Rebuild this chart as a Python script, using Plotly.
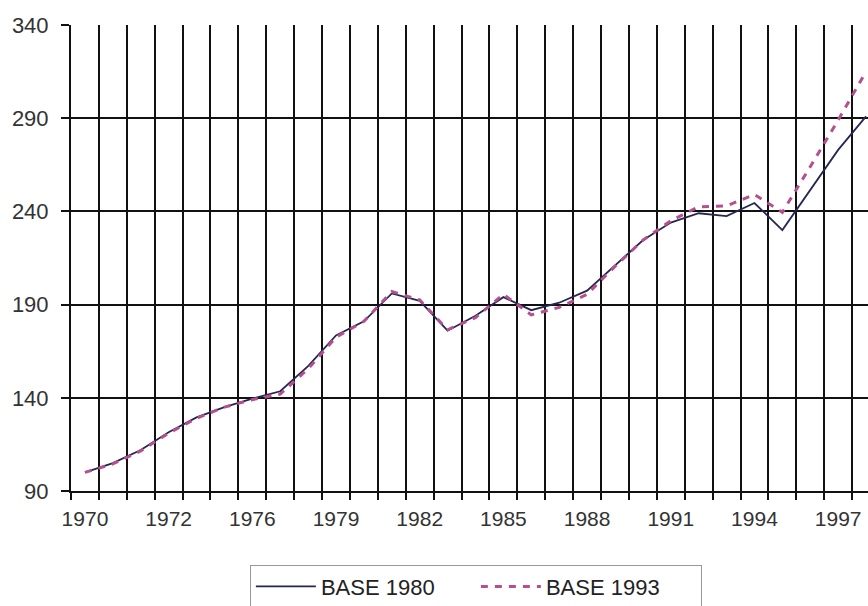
import plotly.graph_objects as go

# categories (one per year) and the labels printed under every third one
years = ["1970", "1971", "1972", "1973", "1974", "1975", "1976", "1977", "1978", "1979",
         "1980", "1981", "1982", "1983", "1984", "1985", "1986", "1987", "1988", "1989",
         "1990", "1991", "1992", "1993", "1994", "1995", "1996", "1997", "1998"]
label_years = ["1970", "1973", "1976", "1979", "1982", "1985", "1988", "1991", "1994", "1997"]
label_text = ["1970", "1972", "1976", "1979", "1982", "1985", "1988", "1991", "1994", "1997"]

base_1980 = [100, 105, 112, 121.5, 129.5, 135, 139.5, 143.5, 157, 173.5,
             181, 196, 192, 176, 184, 194, 187, 191, 197.5, 211,
             224.5, 234, 239, 237.5, 244.5, 230, 251.5, 273, 291]
base_1993 = [100, 104.5, 111.5, 121, 129, 135, 139, 142, 155.5, 172.5,
             181, 197, 192.5, 176.5, 183, 195.5, 184.5, 188.5, 195.5, 210.5,
             224.5, 235, 242.5, 243, 249, 239.5, 264, 289, 315]

tickvals = years
ticktext = [label_text[label_years.index(y)] if y in label_years else "" for y in years]

fig = go.Figure()

fig.add_trace(
    go.Scatter(x=years, y=base_1980, name='BASE 1980', mode='lines',
               line=dict(color='#262652', width=1.8))
)
fig.add_trace(
    go.Scatter(x=years, y=base_1993, name='BASE 1993', mode='lines',
               line=dict(color='#B5508F', width=3, dash='7px,7px'))
)

fig.update_layout(
    width=868, height=606,
    margin=dict(l=71, r=0, t=25, b=115, autoexpand=False),
    paper_bgcolor='white', plot_bgcolor='white',
    font=dict(family='Liberation Sans, Arial, sans-serif', size=21, color='#333333'),
    showlegend=True,
    legend=dict(orientation='h', x=0.508, xanchor='center', y=-0.158, yanchor='top',
                bordercolor='#999999', borderwidth=1, bgcolor='white',
                font=dict(size=22, color='#222222'), itemwidth=60,
                entrywidth=150, tracegroupgap=0),
    xaxis=dict(type='category', range=[-0.5, 28.07], tickson='boundaries',
               tickmode='array', tickvals=tickvals, ticktext=ticktext, tickangle=0,
               showgrid=True, gridcolor='#111111', gridwidth=2,
               showline=True, linecolor='#111111', linewidth=2,
               ticks='outside', ticklen=7, tickwidth=2, tickcolor='#111111',
               tickfont=dict(size=21), zeroline=False, automargin=False,
               ticklabelstandoff=8),
    yaxis=dict(range=[90, 340], tickmode='linear', tick0=90, dtick=50,
               showgrid=True, gridcolor='#111111', gridwidth=2,
               showline=True, linecolor='#111111', linewidth=2,
               ticks='outside', ticklen=8, tickwidth=2, tickcolor='#111111',
               tickfont=dict(size=22), zeroline=False, ticklabelstandoff=8,
               automargin=False),
)

# page body has a default 8px margin; drop it so the figure fills the window
fig.write_html("out.html", config={'displayModeBar': False},
               post_script="document.body.style.margin='0';")
